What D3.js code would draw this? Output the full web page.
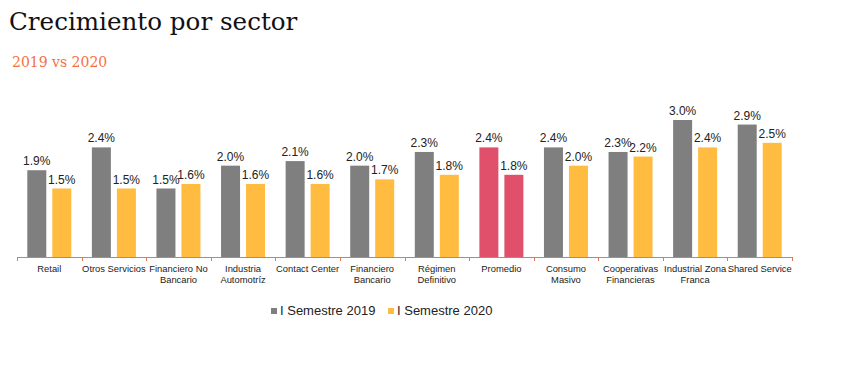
<!DOCTYPE html>
<html><head><meta charset="utf-8">
<script src="https://cdn.jsdelivr.net/npm/d3@7"></script>
<style>body{margin:0;background:#fff}</style>
</head><body>
<script>
const categories = [["Retail"],["Otros Servicios"],["Financiero No","Bancario"],["Industria","Automotríz"],["Contact Center"],["Financiero","Bancario"],["Régimen","Definitivo"],["Promedio"],["Consumo","Masivo"],["Cooperativas","Financieras"],["Industrial Zona","Franca"],["Shared Service"]];
const s2019 = [1.9,2.4,1.5,2.0,2.1,2.0,2.3,2.4,2.4,2.3,3.0,2.9];
const s2020 = [1.5,1.5,1.6,1.6,1.6,1.7,1.8,1.8,2.0,2.2,2.4,2.5];
const seriesNames = ["I Semestre 2019","I Semestre 2020"];
const highlight = "Promedio";

const W=844,H=379;
const svg=d3.select("body").append("svg").attr("width",W).attr("height",H);
svg.append("text").attr("x",9).attr("y",30).attr("font-family","DejaVu Serif, Liberation Serif, serif").attr("font-size",24.6).attr("fill","#111").text("Crecimiento por sector");
svg.append("text").attr("x",12).attr("y",67).attr("font-family","DejaVu Serif, Liberation Serif, serif").attr("font-size",14).attr("fill","#f4713f").text("2019 vs 2020");

const x0=17,x1=792,base=257;
const x=d3.scaleBand().domain(d3.range(categories.length)).range([x0,x1]);
const y=d3.scaleLinear().domain([0,3]).range([base,120]);
const bw=19, gap=6, off=(x.bandwidth()-2*bw-gap)/2;
const cols=["#7f7f7f","#ffbc40"], red="#e0506a";
const font="Liberation Sans, Arial, sans-serif";

const g=svg.append("g");
[s2019,s2020].forEach((s,si)=>{
  s.forEach((v,i)=>{
    const bx=x(i)+off+si*(bw+gap);
    const isH=categories[i][0]===highlight;
    g.append("rect").attr("x",bx).attr("y",y(v)).attr("width",bw).attr("height",base-y(v)).attr("fill",isH?red:cols[si]);
    g.append("text").attr("x",bx+bw/2).attr("y",y(v)-5).attr("text-anchor","middle").attr("font-family",font).attr("font-size",12).attr("fill","#222").text(v.toFixed(1)+"%");
  });
});
// axis
svg.append("line").attr("x1",x0).attr("x2",x1).attr("y1",base+0.5).attr("y2",base+0.5).attr("stroke","#e8784a").attr("stroke-width",1);
d3.range(categories.length+1).forEach(i=>{
  const tx=Math.round(x0+i*x.step())+0.5;
  svg.append("line").attr("x1",tx).attr("x2",tx).attr("y1",base).attr("y2",base+4).attr("stroke","#e8784a");
});
categories.forEach((c,i)=>{
  const t=svg.append("text").attr("x",x(i)+x.bandwidth()/2).attr("y",272).attr("text-anchor","middle").attr("font-family",font).attr("font-size",9.4).attr("fill","#222");
  c.forEach((l,j)=>t.append("tspan").attr("x",x(i)+x.bandwidth()/2).attr("dy",j?11:0).text(l));
});
// legend
const lg=svg.append("g");
const items=[{x:271,c:cols[0],t:seriesNames[0]},{x:388,c:cols[1],t:seriesNames[1]}];
items.forEach(it=>{
  lg.append("rect").attr("x",it.x).attr("y",308).attr("width",6).attr("height",6).attr("fill",it.c);
  lg.append("text").attr("x",it.x+9).attr("y",315).attr("font-family",font).attr("font-size",13).attr("fill","#222").text(it.t);
});
</script>
</body></html>
